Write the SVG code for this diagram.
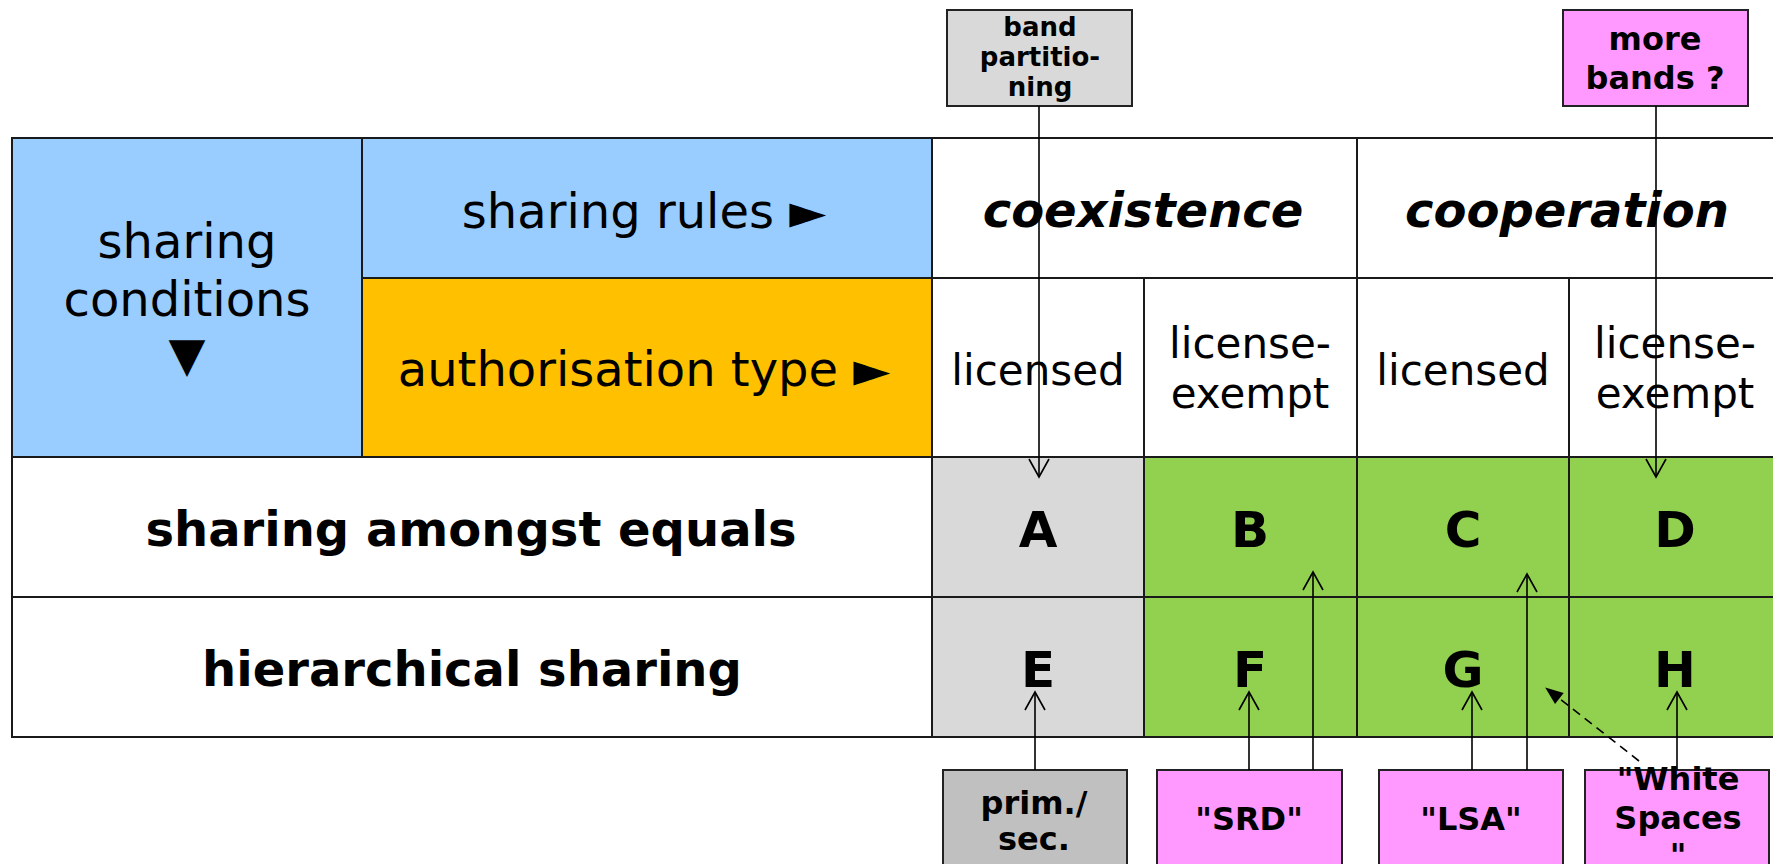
<svg xmlns="http://www.w3.org/2000/svg" width="1773" height="864" viewBox="0 0 1773 864">
<style>
.cell{stroke:#1a1a1a;stroke-width:2}
.box{stroke:#222;stroke-width:2}
.t{font-family:"DejaVu Sans","Liberation Sans",sans-serif;fill:#000;text-anchor:middle}
.n{font-size:48px}
.s{font-size:42px}
.b{font-weight:bold;font-size:48px}
.bi{font-weight:bold;font-style:italic;font-size:48px}
.L{font-weight:bold;font-size:50px}
.bx{font-weight:bold;font-size:32px}
.bs{font-weight:bold;font-size:26px}
.c{stroke:#000;stroke-width:1.6;fill:none}
</style>
<defs>
<marker id="open" viewBox="0 0 20 22" refX="19" refY="11" markerWidth="20" markerHeight="22" markerUnits="userSpaceOnUse" orient="auto" overflow="visible">
<path d="M1,1 L19,11 L1,21" fill="none" stroke="#000" stroke-width="1.6"/>
</marker>
<marker id="solid" viewBox="0 0 18 14" refX="17" refY="7" markerWidth="18" markerHeight="14" markerUnits="userSpaceOnUse" orient="auto" overflow="visible">
<path d="M0,0 L18,7 L0,14 Z" fill="#000"/>
</marker>
</defs>
<rect width="1773" height="864" fill="#fff"/>

<g id="table">
<g id="cell-conditions"><rect class="cell" x="12" y="138" width="350" height="319" fill="#99CCFF"/>
<text class="t n" x="187" y="258">sharing</text><text class="t n" x="187" y="316">conditions</text><text class="t n" x="187" y="371">▼</text></g>
<g id="cell-rules"><rect class="cell" x="362" y="138" width="570" height="140" fill="#99CCFF"/>
<text class="t n" x="644" y="228">sharing rules ►</text></g>
<g id="cell-authorisation"><rect class="cell" x="362" y="278" width="570" height="179" fill="#FFC000"/>
<text class="t n" x="644" y="386">authorisation type ►</text></g>
<g id="cell-coexistence"><rect class="cell" x="932" y="138" width="425" height="140" fill="#fff"/>
<text class="t bi" x="1143" y="227">coexistence</text></g>
<g id="cell-cooperation"><rect class="cell" x="1357" y="138" width="430" height="140" fill="#fff"/>
<text class="t bi" x="1567" y="227">cooperation</text></g>
<g id="cell-lic1"><rect class="cell" x="932" y="278" width="212" height="179" fill="#fff"/>
<text class="t s" x="1038" y="385">licensed</text></g>
<g id="cell-lex1"><rect class="cell" x="1144" y="278" width="213" height="179" fill="#fff"/>
<text class="t s" x="1250" y="358">license-</text><text class="t s" x="1250" y="408">exempt</text></g>
<g id="cell-lic2"><rect class="cell" x="1357" y="278" width="212" height="179" fill="#fff"/>
<text class="t s" x="1463" y="385">licensed</text></g>
<g id="cell-lex2"><rect class="cell" x="1569" y="278" width="218" height="179" fill="#fff"/>
<text class="t s" x="1675" y="358">license-</text><text class="t s" x="1675" y="408">exempt</text></g>
<g id="cell-equals"><rect class="cell" x="12" y="457" width="920" height="140" fill="#fff"/>
<text class="t b" x="471" y="546">sharing amongst equals</text></g>
<g id="cell-hier"><rect class="cell" x="12" y="597" width="920" height="140" fill="#fff"/>
<text class="t b" x="472" y="686">hierarchical sharing</text></g>
<g id="cell-A"><rect class="cell" x="932" y="457" width="212" height="140" fill="#D9D9D9"/><text class="t L" x="1038" y="547">A</text></g>
<g id="cell-B"><rect class="cell" x="1144" y="457" width="213" height="140" fill="#92D050"/><text class="t L" x="1250" y="547">B</text></g>
<g id="cell-C"><rect class="cell" x="1357" y="457" width="212" height="140" fill="#92D050"/><text class="t L" x="1463" y="547">C</text></g>
<g id="cell-D"><rect class="cell" x="1569" y="457" width="218" height="140" fill="#92D050"/><text class="t L" x="1675" y="547">D</text></g>
<g id="cell-E"><rect class="cell" x="932" y="597" width="212" height="140" fill="#D9D9D9"/><text class="t L" x="1038" y="687">E</text></g>
<g id="cell-F"><rect class="cell" x="1144" y="597" width="213" height="140" fill="#92D050"/><text class="t L" x="1250" y="687">F</text></g>
<g id="cell-G"><rect class="cell" x="1357" y="597" width="212" height="140" fill="#92D050"/><text class="t L" x="1463" y="687">G</text></g>
<g id="cell-H"><rect class="cell" x="1569" y="597" width="218" height="140" fill="#92D050"/><text class="t L" x="1675" y="687">H</text></g>
</g>

<g id="band-partitioning"><rect class="box" x="947" y="10" width="185" height="96" fill="#D9D9D9"/>
<text class="t bs" x="1040" y="36">band</text><text class="t bs" x="1040" y="66">partitio-</text><text class="t bs" x="1040" y="96">ning</text></g>
<g id="more-bands"><rect class="box" x="1563" y="10" width="185" height="96" fill="#FF99FF"/>
<text class="t bx" x="1655" y="50">more</text><text class="t bx" x="1655" y="89">bands ?</text></g>
<g id="prim-sec"><rect class="box" x="943" y="770" width="184" height="104" fill="#C0C0C0"/>
<text class="t bx" x="1034" y="814">prim./</text><text class="t bx" x="1034" y="850">sec.</text></g>
<g id="srd"><rect class="box" x="1157" y="770" width="185" height="104" fill="#FF99FF"/>
<text class="t bx" x="1249" y="830">"SRD"</text></g>
<g id="lsa"><rect class="box" x="1379" y="770" width="184" height="104" fill="#FF99FF"/>
<text class="t bx" x="1471" y="830">"LSA"</text></g>
<g id="white-spaces"><rect class="box" x="1585" y="770" width="184" height="104" fill="#FF99FF"/>
<text class="t bx" x="1678" y="790">"White</text><text class="t bx" x="1678" y="829">Spaces</text><text class="t bx" x="1678" y="866">"</text></g>

<g id="connectors">
<line class="c" x1="1039" y1="106" x2="1039" y2="477" marker-end="url(#open)"/>
<line class="c" x1="1656" y1="106" x2="1656" y2="477" marker-end="url(#open)"/>
<line class="c" x1="1035" y1="770" x2="1035" y2="692" marker-end="url(#open)"/>
<line class="c" x1="1249" y1="770" x2="1249" y2="692" marker-end="url(#open)"/>
<line class="c" x1="1313" y1="770" x2="1313" y2="572" marker-end="url(#open)"/>
<line class="c" x1="1472" y1="770" x2="1472" y2="692" marker-end="url(#open)"/>
<line class="c" x1="1527" y1="770" x2="1527" y2="574" marker-end="url(#open)"/>
<line class="c" x1="1677" y1="770" x2="1677" y2="692" marker-end="url(#open)"/>
<line class="c" x1="1639" y1="761" x2="1546" y2="688" stroke-dasharray="9,6" marker-end="url(#solid)"/>
</g>
</svg>
